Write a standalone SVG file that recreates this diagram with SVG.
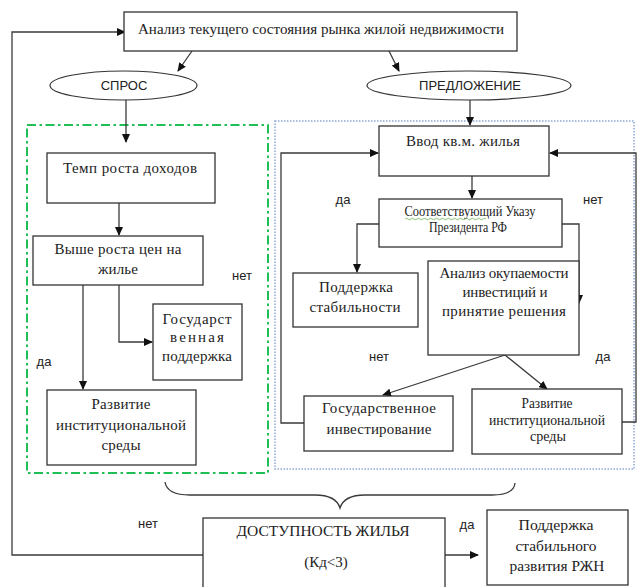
<svg xmlns="http://www.w3.org/2000/svg" width="638" height="587" viewBox="0 0 638 587">
<style>
.bx{fill:#fff;stroke:#333;stroke-width:1.3}
.el{fill:#fff;stroke:#333;stroke-width:1.2}
.s{font-size:15px;fill:#222;text-anchor:middle}
.s13{font-size:14px;fill:#222;text-anchor:middle}
.l{font-size:13px;fill:#222;text-anchor:middle}
.c{fill:none;stroke:#3a3a3a;stroke-width:1.3}
</style>
<defs>
<marker id="ar" markerWidth="9" markerHeight="8" refX="8" refY="4" orient="auto" markerUnits="userSpaceOnUse">
<path d="M0,0 L9,4 L0,8 Z" fill="#111"/>
</marker>
</defs>
<rect x="27" y="125" width="241" height="348" fill="none" stroke="#1fbf55" stroke-width="2" stroke-dasharray="9,3.5,2.5,3.5"/>
<rect x="275" y="121" width="359" height="348" fill="none" stroke="#8fa8d6" stroke-width="1.5" stroke-dasharray="1.5,1.5"/>
<g id="connectors">
<polyline class="c" points="203,555 12,555 12,32 125,32" marker-end="url(#ar)"/>
<line class="c" x1="192" y1="51" x2="178" y2="71" marker-end="url(#ar)"/>
<line class="c" x1="389" y1="51" x2="399" y2="71" marker-end="url(#ar)"/>
<line class="c" x1="126" y1="100" x2="126" y2="142" marker-end="url(#ar)"/>
<line class="c" x1="119" y1="203" x2="119" y2="235" marker-end="url(#ar)"/>
<line class="c" x1="83" y1="285" x2="83" y2="389" marker-end="url(#ar)"/>
<polyline class="c" points="119,285 119,342 152,342" marker-end="url(#ar)"/>
<line class="c" x1="470" y1="100" x2="470" y2="125" marker-end="url(#ar)"/>
<line class="c" x1="472" y1="176" x2="472" y2="198" marker-end="url(#ar)"/>
<polyline class="c" points="379,224 357,224 357,272" marker-end="url(#ar)"/>
<polyline class="c" points="562,224 579,224 579,303" marker-end="url(#ar)"/>
<line class="c" x1="505" y1="355" x2="383" y2="395" marker-end="url(#ar)"/>
<line class="c" x1="505" y1="355" x2="547" y2="389" marker-end="url(#ar)"/>
<polyline class="c" points="304,423 281,423 281,153 378,153" marker-end="url(#ar)"/>
<polyline class="c" points="622,422 636,422 636,153 550,153" marker-end="url(#ar)"/>
<line class="c" x1="445" y1="555" x2="478" y2="555" marker-end="url(#ar)"/>
<path class="c" d="M165,482 Q167,495 190,495 L315,495 Q336,495 340,508 Q344,495 365,495 L492,495 Q514,495 515,483"/>
</g>
<g font-family="Liberation Serif, DejaVu Serif, serif">
<g id="n-analysis"><rect class="bx" x="124" y="12" width="393" height="39"/><text class="s" x="321" y="34" textLength="366" lengthAdjust="spacingAndGlyphs">Анализ текущего состояния рынка жилой недвижимости</text></g>
<g id="n-temp"><rect class="bx" x="47" y="153" width="168" height="50"/><text class="s" x="130" y="173" textLength="134">Темп роста доходов</text></g>
<g id="n-vyshe"><rect class="bx" x="33" y="236" width="170" height="49"/><text class="s" x="118" y="254" textLength="127">Выше роста цен на</text><text class="s" x="118" y="274" textLength="40">жилье</text></g>
<g id="n-gos"><rect class="bx" x="153" y="304" width="89" height="76"/><text class="s" x="197" y="324" textLength="69">Государст</text><text class="s" x="197" y="342" textLength="54">венная</text><text class="s" x="197" y="361" textLength="70">поддержка</text></g>
<g id="n-razv-l"><rect class="bx" x="47" y="390" width="149" height="75"/><text class="s" x="121" y="409" textLength="59">Развитие</text><text class="s" x="121" y="430" textLength="130">институциональной</text><text class="s" x="121" y="450" textLength="39">среды</text></g>
<g id="n-vvod"><rect class="bx" x="379" y="126" width="170" height="50"/><text class="s" x="463" y="146" textLength="114">Ввод кв.м. жилья</text></g>
<g id="n-sootv"><rect class="bx" x="379" y="199" width="183" height="48"/><text class="s13" x="470" y="216" textLength="131" lengthAdjust="spacingAndGlyphs">Соответствующий Указу</text><text class="s13" x="468" y="232" textLength="78" lengthAdjust="spacingAndGlyphs">Президента РФ</text><path d="M405,219 q1.5,-1.5 3,0 t3,0 t3,0 t3,0 t3,0 t3,0 t3,0 t3,0 t3,0 t3,0 t3,0 t3,0 t3,0 t3,0 t3,0 t3,0 t3,0 t3,0 t3,0 t3,0 t3,0 t3,0 t3,0 t3,0 t3,0 t3,0 t3,0" fill="none" stroke="#6ab04c" stroke-width="0.8"/></g>
<g id="n-podd-stab"><rect class="bx" x="293" y="273" width="125" height="54"/><text class="s" x="356" y="292" textLength="74">Поддержка</text><text class="s" x="355" y="312" textLength="91">стабильности</text></g>
<g id="n-okup"><rect class="bx" x="428" y="261" width="151" height="94"/><text class="s" x="504" y="278" textLength="129">Анализ окупаемости</text><text class="s" x="505" y="297" textLength="85">инвестиций и</text><text class="s" x="504" y="316" textLength="124">принятие решения</text></g>
<g id="n-gos-inv"><rect class="bx" x="304" y="396" width="149" height="55"/><text class="s" x="379" y="413" textLength="114">Государственное</text><text class="s" x="379" y="434" textLength="105">инвестирование</text></g>
<g id="n-razv-r"><rect class="bx" x="472" y="389" width="150" height="65"/><text class="s13" x="547" y="408" textLength="51" lengthAdjust="spacingAndGlyphs">Развитие</text><text class="s13" x="547" y="425" textLength="116" lengthAdjust="spacingAndGlyphs">институциональной</text><text class="s13" x="548" y="441" textLength="36" lengthAdjust="spacingAndGlyphs">среды</text></g>
<g id="n-dost"><rect class="bx" x="203" y="518" width="242" height="75"/><text class="s" x="323" y="536" textLength="173" lengthAdjust="spacingAndGlyphs">ДОСТУПНОСТЬ ЖИЛЬЯ</text><text class="s" x="326" y="567">(Кд&lt;3)</text></g>
<g id="n-podd-rzhn"><rect class="bx" x="487" y="510" width="141" height="75"/><text class="s13" x="556" y="530" textLength="75" lengthAdjust="spacingAndGlyphs">Поддержка</text><text class="s13" x="556" y="551" textLength="81" lengthAdjust="spacingAndGlyphs">стабильного</text><text class="s13" x="557" y="571" textLength="95" lengthAdjust="spacingAndGlyphs">развития РЖН</text></g>
</g>
<g font-family="Liberation Sans, Arial, sans-serif">
<g id="n-spros"><ellipse class="el" cx="123.5" cy="85.5" rx="73.5" ry="14.5"/><text class="l" x="124" y="90" font-size="12">СПРОС</text></g>
<g id="n-predl"><ellipse class="el" cx="469" cy="85.5" rx="102" ry="14.5"/><text class="l" x="470" y="90" font-size="12">ПРЕДЛОЖЕНИЕ</text></g>
<g id="labels">
<text class="l" x="242" y="280">нет</text>
<text class="l" x="44" y="366">да</text>
<text class="l" x="343" y="204">да</text>
<text class="l" x="593" y="204">нет</text>
<text class="l" x="379" y="361">нет</text>
<text class="l" x="603" y="361">да</text>
<text class="l" x="148" y="528">нет</text>
<text class="l" x="467" y="529">да</text>
</g>
</g>
</svg>
